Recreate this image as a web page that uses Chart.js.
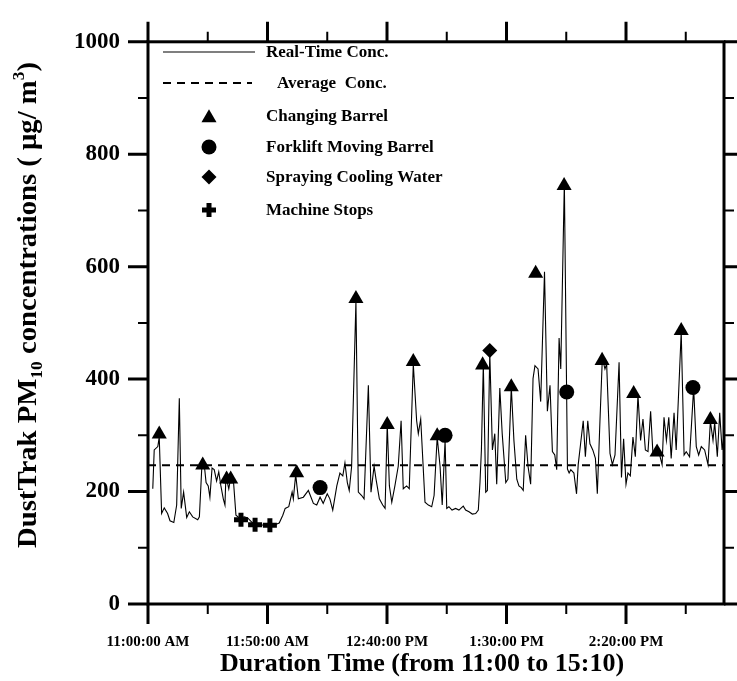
<!DOCTYPE html>
<html>
<head>
<meta charset="utf-8">
<script src="https://cdn.jsdelivr.net/npm/chart.js@4.4.1/dist/chart.umd.min.js"></script>
<style>
  html, body { margin: 0; padding: 0; background: #fff; }
  canvas { display: block; }
</style>
</head>
<body>
<canvas id="dustChart" width="737" height="681"></canvas>
<script>
// ==============================
// Data (minutes after 11:00, concentration in ug/m3)
// ==============================
const times = [
    2.0, 2.6, 4.1, 4.7, 5.7, 6.8, 8.2, 9.2, 10.8, 12.0, 13.1, 13.9, 14.9, 16.2, 17.3, 18.7, 20.8, 21.5,
    22.6, 23.6, 24.3, 25.2, 25.9, 26.8, 27.7, 28.7, 29.6, 30.5, 31.5, 32.2, 32.6, 33.8, 34.7, 35.7, 36.8,
    38.2, 40.3, 41.7, 43.1, 44.5, 46.6, 48.7, 51.0, 53.1, 54.9, 56.4, 57.4, 58.9, 60.3, 60.8, 61.8, 62.9,
    65.0, 67.1, 69.2, 70.6, 72.0, 73.3, 75.0, 76.1, 77.3, 79.0, 80.3, 81.5, 82.4, 83.4, 84.2, 85.2, 87.0,
    88.0, 89.4, 90.4, 92.2, 93.3, 94.6, 95.4, 96.8, 98.2, 99.2, 100.1, 101.0, 102.0, 103.3, 104.7, 105.9,
    106.8, 108.2, 109.3, 111.0, 112.4, 113.1, 114.1, 115.9, 117.3, 118.7, 119.7, 121.0, 122.2, 123.1, 124.3,
    125.0, 125.9, 127.2, 128.7, 130.1, 131.9, 132.9, 134.3, 135.7, 137.1, 138.2, 138.9, 139.5, 140.3, 141.3,
    142.0, 143.0, 144.1, 145.1, 145.9, 147.2, 148.2, 149.7, 150.6, 152.0, 153.1, 154.3, 155.2, 156.2, 157.0,
    158.0, 159.0, 160.1, 161.1, 161.9, 163.2, 164.3, 165.9, 167.1, 168.2, 169.2, 170.2, 171.0, 172.0, 172.7,
    174.2, 175.5, 176.2, 176.9, 178.2, 179.3, 180.0, 181.0, 182.1, 183.0, 184.0, 184.9, 186.1, 187.2, 188.0,
    189.1, 190.1, 191.2, 191.9, 193.3, 194.3, 195.4, 197.1, 198.1, 199.0, 200.0, 200.8, 201.8, 202.9, 203.9,
    205.0, 206.1, 207.1, 208.1, 209.2, 210.3, 211.3, 212.7, 214.1, 215.1, 215.9, 216.9, 217.9, 218.9, 220.1,
    221.0, 223.1, 224.3, 225.2, 226.6, 228.3, 229.4, 230.4, 231.5, 232.9, 234.3, 235.3, 236.4, 237.1, 238.2,
    239.2, 240.2, 241.0
];
const realTime = [
    205, 274, 280, 297, 161, 171, 161, 148, 145, 176, 366, 170, 199, 154, 164, 155, 150, 155,
    251, 245, 216, 210, 190, 242, 239, 219, 235, 210, 187, 176, 228, 205, 228, 222, 158,
    153, 155, 153, 147, 141, 141, 140, 140, 141, 144, 158, 170, 173, 199, 187, 230, 187,
    190, 202, 179, 176, 190, 179, 196, 187, 167, 210, 233, 228, 251, 216, 202, 245, 539,
    199, 193, 187, 389, 199, 245, 222, 187, 176, 170, 320, 210, 181, 210, 245, 326,
    205, 210, 205, 427, 326, 303, 329, 181, 176, 173, 193, 297, 245, 176, 291,
    170, 173, 167, 170, 167, 174, 167, 164, 160, 161, 167, 216, 274, 427, 199,
    202, 447, 274, 303, 213, 384, 303, 216, 222, 386, 291, 222, 210, 207, 202,
    300, 245, 213, 401, 424, 418, 360, 591, 343, 389, 271, 265, 239, 473, 418,
    750, 240, 233, 239, 233, 196, 248, 285, 326, 262, 326, 285, 274, 259, 196,
    326, 438, 418, 427, 268, 248, 265, 430, 225, 294, 213, 233, 228, 297, 262,
    372, 291, 329, 274, 271, 343, 265, 268, 265, 248, 332, 291, 332, 259, 340,
    274, 484, 265, 271, 262, 384, 280, 265, 280, 274, 248, 325, 291, 323, 262,
    340, 274, 300
];
const averageConc = 247;

// Event markers
const barrelTimes = [4.7, 22.9, 32.9, 34.6, 62.2, 87.0, 100.1, 111.0, 121.0, 140.0, 152.0, 162.2, 174.1, 190.0, 203.2, 213.0, 223.1, 235.3];
const barrelValues = [302, 247, 222, 222, 233, 543, 319, 431, 299, 425, 386, 588, 744, 433, 374, 270, 486, 328];
const forkliftTimes = [72.0, 124.3, 175.2, 228.0];
const forkliftValues = [207, 300, 377, 385];
const sprayTimes = [143.0];
const sprayValues = [451];
const stopTimes = [38.9, 44.8, 51.0];
const stopValues = [150, 141, 140];

// Axes
const xMax = 241;
const xTickMinutes = [0, 25, 50, 75, 100, 125, 150, 175, 200, 225];
const xLabelMinutes = [0, 50, 100, 150, 200];
const xTickLabels = ["11:00:00 AM", "11:50:00 AM", "12:40:00 PM", "1:30:00 PM", "2:20:00 PM"];
const yTicks = [0, 100, 200, 300, 400, 500, 600, 700, 800, 900, 1000];
const yLabelTicks = [0, 200, 400, 600, 800, 1000];

const legendLabels = ["Real-Time Conc.", "Average  Conc.", "Changing Barrel", "Forklift Moving Barrel", "Spraying Cooling Water", "Machine Stops"];

const SERIF = "'Liberation Serif', 'Times New Roman', serif";

function toPoints(xs, ys) {
    return xs.map((x, i) => ({ x: x, y: ys[i] }));
}

// ==============================
// Frame, ticks, titles and legend
// ==============================
const framePlugin = {
    id: "frame",
    afterDraw(chart) {
        const ctx = chart.ctx;
        const area = chart.chartArea;
        const xs = chart.scales.x;
        const ys = chart.scales.y;

        ctx.save();
        ctx.strokeStyle = "#000";
        ctx.lineCap = "butt";

        // ticks
        xTickMinutes.forEach(v => {
            const px = xs.getPixelForValue(v);
            const major = xLabelMinutes.includes(v);
            const len = major ? 20 : 10;
            ctx.lineWidth = major ? 3 : 2;
            ctx.beginPath();
            ctx.moveTo(px, area.bottom);
            ctx.lineTo(px, area.bottom + len);
            ctx.moveTo(px, area.top);
            ctx.lineTo(px, area.top - len);
            ctx.stroke();
        });
        yTicks.forEach(v => {
            const py = ys.getPixelForValue(v);
            const major = yLabelTicks.includes(v);
            const len = major ? 20 : 10;
            ctx.lineWidth = major ? 3 : 2;
            ctx.beginPath();
            ctx.moveTo(area.left - len, py);
            ctx.lineTo(area.left, py);
            ctx.moveTo(area.right, py);
            ctx.lineTo(area.right + len, py);
            ctx.stroke();
        });

        // frame
        ctx.lineWidth = 3;
        ctx.strokeRect(area.left, area.top, area.right - area.left, area.bottom - area.top);

        // x title
        ctx.fillStyle = "#000";
        ctx.font = "bold 26px " + SERIF;
        ctx.textAlign = "center";
        ctx.textBaseline = "middle";
        ctx.fillText("Duration Time (from 11:00 to 15:10)", 422, 664);

        // y title with subscript / superscript
        const parts = [
            { text: "DustTrak PM", size: 28, dy: 0 },
            { text: "10", size: 17, dy: 6 },
            { text: " concentrations ( \u03bcg/ m", size: 28, dy: 0 },
            { text: "3", size: 17, dy: -12 },
            { text: ")", size: 28, dy: 0 }
        ];
        ctx.save();
        ctx.translate(36, 305);
        ctx.rotate(-Math.PI / 2);
        ctx.textAlign = "left";
        ctx.textBaseline = "alphabetic";
        let total = 0;
        parts.forEach(p => {
            ctx.font = "bold " + p.size + "px " + SERIF;
            p.w = ctx.measureText(p.text).width;
            total += p.w;
        });
        ctx.scale(486 / total, 1);
        let cx = -total / 2;
        parts.forEach(p => {
            ctx.font = "bold " + p.size + "px " + SERIF;
            ctx.fillText(p.text, cx, p.dy);
            cx += p.w;
        });
        ctx.restore();

        // legend
        const rows = [52, 83, 116, 147, 177, 210];
        ctx.lineWidth = 1.2;
        ctx.beginPath();
        ctx.moveTo(163, rows[0]);
        ctx.lineTo(255, rows[0]);
        ctx.stroke();
        ctx.lineWidth = 2;
        ctx.setLineDash([8, 6]);
        ctx.beginPath();
        ctx.moveTo(163, rows[1]);
        ctx.lineTo(252, rows[1]);
        ctx.stroke();
        ctx.setLineDash([]);

        const markerSets = chart.data.datasets.slice(2);
        markerSets.forEach((ds, i) => {
            ctx.fillStyle = "#000";
            ctx.strokeStyle = "#000";
            ctx.lineWidth = ds.borderWidth || 1;
            Chart.helpers.drawPoint(ctx, {
                pointStyle: ds.pointStyle,
                radius: ds.pointRadius,
                borderWidth: ds.borderWidth,
                rotation: 0
            }, 209, rows[i + 2] + (ds.pointStyle === "triangle" ? 2 : 0));
        });

        ctx.fillStyle = "#000";
        ctx.font = "bold 17px " + SERIF;
        ctx.textAlign = "left";
        ctx.textBaseline = "middle";
        legendLabels.forEach((label, i) => {
            ctx.fillText(label, i === 1 ? 277 : 266, rows[i] + 1);
        });

        ctx.restore();
    }
};

const chartCanvas = document.getElementById("dustChart");

new Chart(chartCanvas, {
    type: "line",
    data: {
        datasets: [
            {
                label: legendLabels[0],
                data: toPoints(times, realTime),
                borderColor: "#000",
                borderWidth: 1.1,
                pointRadius: 0,
                tension: 0,
                order: 3
            },
            {
                label: legendLabels[1],
                data: [{ x: 0, y: averageConc }, { x: xMax, y: averageConc }],
                borderColor: "#000",
                borderWidth: 2,
                borderDash: [8, 6],
                pointRadius: 0,
                order: 2
            },
            {
                label: legendLabels[2],
                data: toPoints(barrelTimes, barrelValues),
                showLine: false,
                pointStyle: "triangle",
                pointRadius: 8.7,
                borderWidth: 0,
                backgroundColor: "#000",
                borderColor: "#000",
                order: 1
            },
            {
                label: legendLabels[3],
                data: toPoints(forkliftTimes, forkliftValues),
                showLine: false,
                pointStyle: "circle",
                pointRadius: 7.5,
                borderWidth: 0,
                backgroundColor: "#000",
                borderColor: "#000",
                order: 1
            },
            {
                label: legendLabels[4],
                data: toPoints(sprayTimes, sprayValues),
                showLine: false,
                pointStyle: "rectRot",
                pointRadius: 7.5,
                borderWidth: 0,
                backgroundColor: "#000",
                borderColor: "#000",
                order: 1
            },
            {
                label: legendLabels[5],
                data: toPoints(stopTimes, stopValues),
                showLine: false,
                pointStyle: "cross",
                pointRadius: 7,
                borderWidth: 5,
                backgroundColor: "#000",
                borderColor: "#000",
                order: 1
            }
        ]
    },
    options: {
        responsive: false,
        animation: false,
        events: [],
        layout: {
            padding: { top: 27, right: 13, bottom: 0, left: 0 }
        },
        plugins: {
            legend: { display: false },
            title: { display: false },
            tooltip: { enabled: false }
        },
        scales: {
            x: {
                type: "linear",
                min: 0,
                max: xMax,
                afterBuildTicks: scale => {
                    scale.ticks = xTickMinutes.map(v => ({ value: v }));
                },
                afterFit: scale => {
                    scale.height = 77;
                },
                grid: { display: false, drawTicks: false },
                border: { display: false },
                ticks: {
                    autoSkip: false,
                    maxRotation: 0,
                    minRotation: 0,
                    padding: 29,
                    color: "#000",
                    font: { family: SERIF, size: 15, weight: "bold" },
                    callback: value => {
                        const idx = xLabelMinutes.indexOf(value);
                        return idx >= 0 ? xTickLabels[idx] : "";
                    }
                }
            },
            y: {
                min: 0,
                max: 1000,
                afterBuildTicks: scale => {
                    scale.ticks = yTicks.map(v => ({ value: v }));
                },
                afterFit: scale => {
                    scale.width = 148;
                },
                grid: { display: false, drawTicks: false },
                border: { display: false },
                ticks: {
                    padding: 28,
                    color: "#000",
                    font: { family: SERIF, size: 23, weight: "bold" },
                    callback: value => yLabelTicks.includes(value) ? String(value) : ""
                }
            }
        }
    },
    plugins: [framePlugin]
});
</script>
</body>
</html>
